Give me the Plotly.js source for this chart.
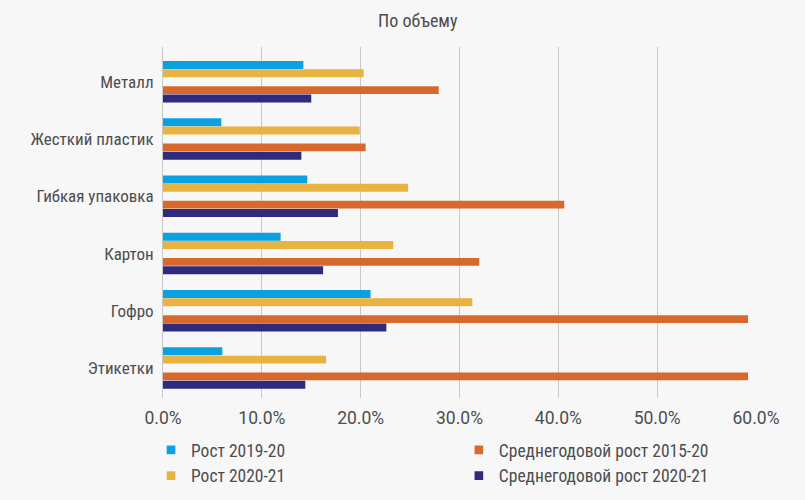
<!DOCTYPE html>
<html>
<head>
<meta charset="utf-8">
<script src="https://cdn.plot.ly/plotly-3.0.1.min.js"></script>
<style>
html,body{margin:0;padding:0;background:#f7f7f8;}
#chart{width:805px;height:500px;}
#chart svg text{font-stretch:75% !important;}
#chart svg .xtick text{font-stretch:100% !important;}
#chart svg .legendpoints path{transform:translate(20px,0px) scale(0.72);}
</style>
</head>
<body>
<div id="chart"></div>
<script>
// Data (percent growth)
var categories = ['Металл', 'Жесткий пластик', 'Гибкая упаковка', 'Картон', 'Гофро', 'Этикетки'];
var growth2019_20 = [14.2, 5.9, 14.6, 11.9, 21.0, 6.0];
var growth2020_21 = [20.3, 19.9, 24.8, 23.3, 31.3, 16.5];
var cagr2015_20 = [27.9, 20.5, 40.6, 32.0, 59.2, 59.2];
var cagr2020_21 = [15.0, 14.0, 17.7, 16.2, 22.6, 14.4];
var seriesNames = ['Рост 2019-20', 'Рост 2020-21', 'Среднегодовой рост 2015-20', 'Среднегодовой рост 2020-21'];
var xTickVals = [0, 10, 20, 30, 40, 50, 60];

var FONT = 'Roboto, "Liberation Sans Narrow", sans-serif';
var TXT = '#4d4d4f';
var colors = ['#0aa0e2', '#e9b341', '#d8682c', '#2e2a7e'];
var series = [growth2019_20, growth2020_21, cagr2015_20, cagr2020_21];
var slotStart = -0.3665, slot = 0.1466;
var slotIdx = [0, 1, 3, 4];
var legendIds = ['legend', 'legend', 'legend2', 'legend2'];
var pos = categories.map(function (c, i) { return i; });

var traces = series.map(function (vals, k) {
  return {
    type: 'bar',
    orientation: 'h',
    name: seriesNames[k],
    x: vals.map(function (v) { return v / 100; }),
    y: pos,
    offset: slotStart + slotIdx[k] * slot,
    width: slot - 0.008,
    marker: { color: colors[k] },
    legend: legendIds[k],
    hoverinfo: 'x+name'
  };
});

var layout = {
  width: 805,
  height: 500,
  paper_bgcolor: '#f7f7f8',
  plot_bgcolor: '#f7f7f8',
  barmode: 'overlay',
  margin: { l: 163, r: 49, t: 47, b: 102, pad: 0, autoexpand: false },
  font: { family: FONT, size: 18, color: TXT },
  title: {
    text: 'По объему',
    x: 0.519, xref: 'container', xanchor: 'center',
    y: 0.958, yref: 'container', yanchor: 'middle',
    font: { family: FONT, size: 18, color: TXT }
  },
  xaxis: {
    range: [0, 0.6],
    tickvals: xTickVals.map(function (v) { return v / 100; }),
    ticktext: xTickVals.map(function (v) { return v.toFixed(1) + '%'; }),
    tickangle: 0,
    showgrid: true,
    gridcolor: '#c9c9c9',
    gridwidth: 1,
    zeroline: false,
    showline: false,
    ticks: '',
    ticklabelstandoff: 7,
    tickfont: { family: FONT, size: 17.5, color: TXT },
    fixedrange: true
  },
  yaxis: {
    range: [5.52, -0.61],
    tickvals: pos,
    ticktext: categories,
    showgrid: false,
    zeroline: false,
    showline: true,
    linecolor: '#c9c9c9',
    linewidth: 1,
    ticks: '',
    ticklabelstandoff: 5,
    tickfont: { family: FONT, size: 17, color: TXT },
    fixedrange: true
  },
  legend: {
    x: 0.1876, xref: 'container', xanchor: 'left',
    y: 0.136, yref: 'container', yanchor: 'top',
    orientation: 'v',
    bgcolor: 'rgba(0,0,0,0)',
    font: { family: FONT, size: 17.5, color: TXT },
    itemclick: false, itemdoubleclick: false
  },
  legend2: {
    x: 0.570, xref: 'container', xanchor: 'left',
    y: 0.136, yref: 'container', yanchor: 'top',
    orientation: 'v',
    bgcolor: 'rgba(0,0,0,0)',
    font: { family: FONT, size: 17.5, color: TXT },
    itemclick: false, itemdoubleclick: false
  },
  showlegend: true
};

Plotly.newPlot('chart', traces, layout, { displayModeBar: false, staticPlot: true });
</script>
</body>
</html>
